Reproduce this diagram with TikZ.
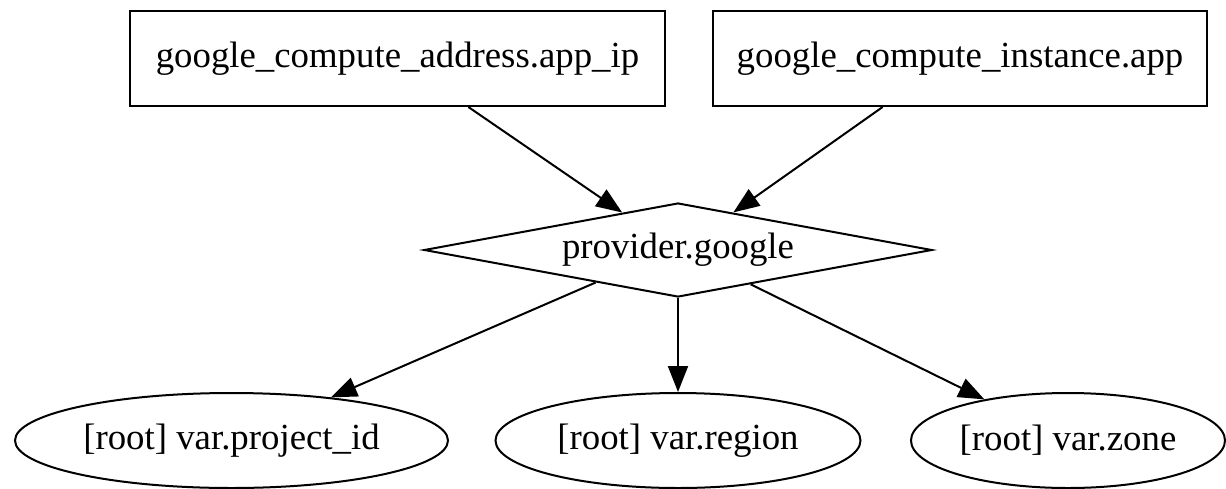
\documentclass[tikz,border=0pt]{standalone}
\usepackage{fontspec}
\setmainfont{Liberation Serif}
\usetikzlibrary{shapes.geometric,arrows.meta,calc}
\tikzset{
  gvtext/.style={font=\fontsize{18.4}{22}\selectfont, text=black},
  boxnode/.style={gvtext, draw, line width=1pt, rectangle, inner sep=0pt, minimum height=47.5pt},
  dianode/.style={gvtext, draw, line width=1pt, diamond, aspect=5.404, inner sep=0pt, minimum width=254pt, minimum height=47pt},
  ellnode/.style={gvtext, draw, line width=1pt, ellipse, inner sep=0pt, minimum height=47.5pt},
  edge/.style={line width=1pt, -{Triangle[length=13pt,width=10pt]}}
}
\begin{document}
\begin{tikzpicture}[x=0.5pt,y=-0.5pt]
\useasboundingbox (0,0) rectangle (1226,488);
\node[boxnode, minimum width=267.5pt] (b1) at (397.5,58.5) {google\_compute\_address.app\_ip};
\node[boxnode, minimum width=247pt] (b2) at (960,58.5) {google\_compute\_instance.app};
\node[dianode] (dia) at (678,250) {provider.google};
\node[ellnode, minimum width=216.5pt] (e1) at (231.5,440.5) {[root] var.project\_id};
\node[ellnode, minimum width=182.5pt] (e2) at (678,440.5) {[root] var.region};
\node[ellnode, minimum width=157pt] (e3) at (1068,440.5) {[root] var.zone};
\coordinate (s1) at ($(b1.south west)!0.632!(b1.south east)$);
\coordinate (t1) at ($(dia.west)!0.781!(dia.north)$);
\coordinate (s2) at ($(b2.south west)!0.344!(b2.south east)$);
\coordinate (t2) at ($(dia.north)!0.217!(dia.east)$);
\coordinate (s3) at ($(dia.west)!0.677!(dia.south)$);
\coordinate (s5) at ($(dia.south)!0.285!(dia.east)$);
\draw[edge] (s1) -- (t1);
\draw[edge] (s2) -- (t2);
\draw[edge] (s3) -- (e1);
\draw[edge] (dia.south) -- (dia.south |- e2.north);
\draw[edge] (s5) -- (e3);
\end{tikzpicture}
\end{document}
